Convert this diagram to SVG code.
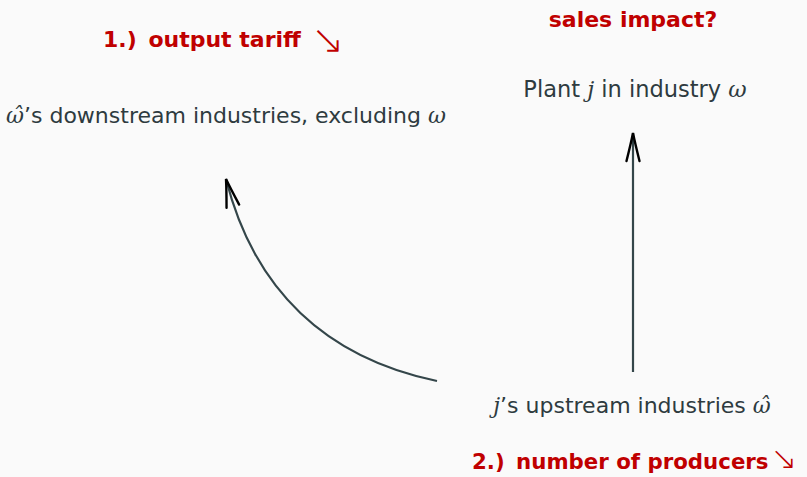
<svg xmlns="http://www.w3.org/2000/svg" width="807" height="477" viewBox="0 0 807 477">
<style>
.node{font-family:"DejaVu Sans","Liberation Sans",sans-serif;font-size:22px;fill:#2e3b3f}
.math{font-family:"DejaVu Serif","Liberation Serif",serif;font-style:italic}
.red{font-family:"DejaVu Sans","Liberation Sans",sans-serif;font-size:22px;font-weight:bold;fill:#c00000}
.arr{font-family:"DejaVu Sans",sans-serif;font-weight:200;font-size:40px}
.edge{fill:none;stroke:#34464a;stroke-width:2.2}
</style>
<defs>
<marker id="tip" viewBox="-30 -8 32 16" refX="0" refY="0" markerWidth="32" markerHeight="16" markerUnits="userSpaceOnUse" orient="auto">
<path d="M-28,-6.5 Q-10,-2 0,0 Q-10,2 -28,6.5" fill="none" stroke="#000" stroke-width="2.4" stroke-linecap="round"/>
</marker>
</defs>
<rect width="807" height="477" fill="#fafafa"/>
<g id="label-sales-impact"><text class="red" x="633" y="27" text-anchor="middle">sales impact?</text></g>
<g id="label-output-tariff"><text class="red" x="103" y="47">1.) <tspan dx="4">output tariff</tspan><tspan class="arr" fill="#c00000" dx="10" dy="6">↘</tspan></text></g>
<g id="node-plant"><text class="node" x="635" y="97" text-anchor="middle" style="font-size:22.5px">Plant <tspan class="math">j</tspan> in industry <tspan class="math">ω</tspan></text></g>
<g id="node-downstream"><text class="node" x="226" y="123" text-anchor="middle"><tspan class="math">ω̂</tspan>’s downstream industries, excluding <tspan class="math">ω</tspan></text></g>
<g id="node-upstream"><text class="node" x="632" y="413" text-anchor="middle"><tspan class="math">j</tspan>’s upstream industries <tspan class="math">ω̂</tspan></text></g>
<g id="label-producers"><text class="red" x="472" y="469" style="font-size:21.3px">2.) <tspan dx="4">number of producers</tspan><tspan class="arr" fill="#c00000" dx="2" dy="0" style="font-size:32px">↘</tspan></text></g>
<g id="connectors">
<path class="edge" d="M633,372 L633,133" marker-end="url(#tip)"/>
<path class="edge" d="M437,381 C326,358 254,290 226,179" marker-end="url(#tip)"/>
</g>
</svg>
